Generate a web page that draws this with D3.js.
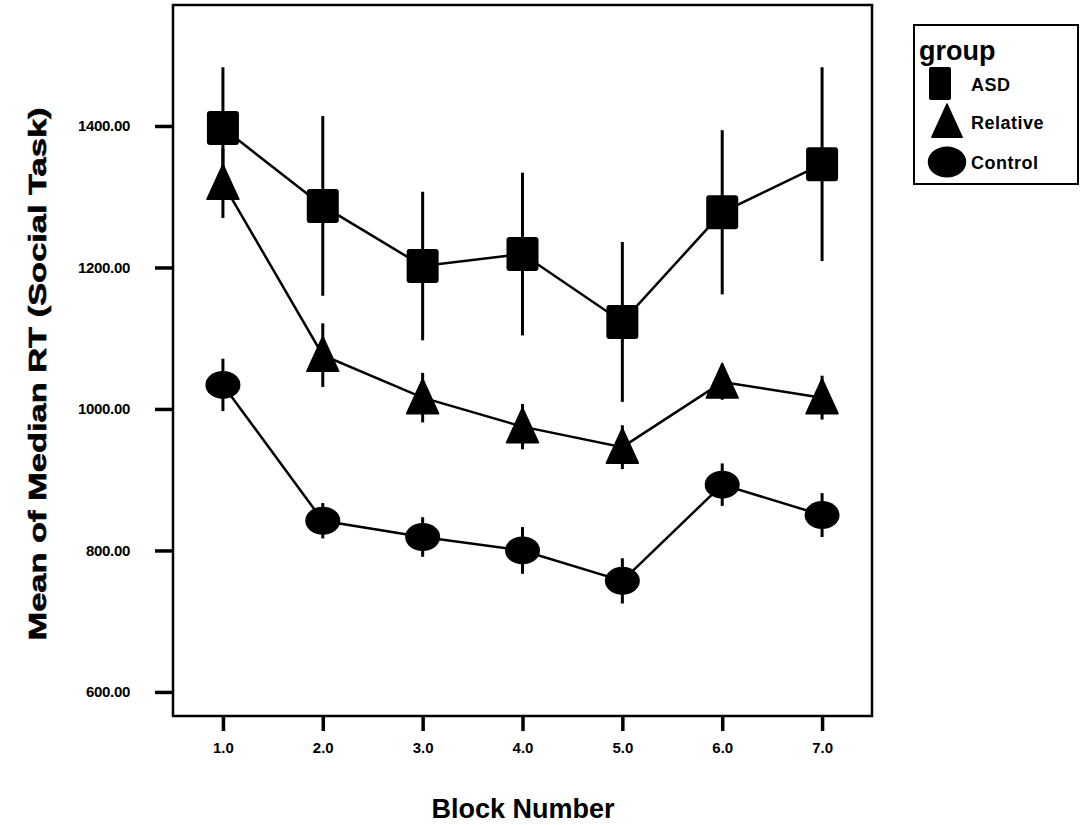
<!DOCTYPE html>
<html>
<head>
<meta charset="utf-8">
<script src="https://cdn.jsdelivr.net/npm/d3@7"></script>
<style>
  body { margin: 0; background: #fff; }
  svg { display: block; font-family: "Liberation Sans", Arial, sans-serif; }
</style>
</head>
<body>
<svg id="chart" width="1081" height="825"></svg>
<script>
// block numbers on the x axis
var blocks = [1, 2, 3, 4, 5, 6, 7];

// mean of median RT per group, with half length of the error bar
var asdMean = [1397, 1287, 1202, 1219, 1123, 1278, 1346];
var asdErr = [86, 127, 105, 115, 113, 116, 137];
var relMean = [1319, 1076, 1016, 975, 946, 1038, 1016];
var relErr = [49, 45, 35, 32, 31, 25, 31];
var ctlMean = [1034, 842, 819, 800, 757, 893, 850];
var ctlErr = [37, 25, 28, 33, 32, 30, 31];

var yTicks = [600, 800, 1000, 1200, 1400];
var groupNames = ['ASD', 'Relative', 'Control'];

window.onload = function () {

    var svg = d3.select('#chart');

    var x = d3.scaleLinear().domain([0.5, 7.5]).range([173, 872]);
    var y = d3.scaleLinear().domain([566, 1571]).range([716, 5]);

    var series = [
        { name: 'ASD', shape: 'square', mean: asdMean, err: asdErr },
        { name: 'Relative', shape: 'triangle', mean: relMean, err: relErr },
        { name: 'Control', shape: 'circle', mean: ctlMean, err: ctlErr }
    ];

    // frame
    svg.append('rect')
        .attr('x', x(0.5)).attr('y', y(1571))
        .attr('width', x(7.5) - x(0.5)).attr('height', y(566) - y(1571))
        .attr('fill', 'none').attr('stroke', '#000').attr('stroke-width', 2.5);

    // axes
    var yAxis = d3.axisLeft(y).tickValues(yTicks).tickSize(17).tickPadding(25)
        .tickFormat(d3.format('.2f'));
    var gy = svg.append('g').attr('transform', 'translate(' + (x(0.5) - 1) + ',0)').call(yAxis);
    gy.select('.domain').remove();
    gy.selectAll('line').attr('stroke-width', 3.5);
    gy.selectAll('text').attr('font-size', 15).attr('font-weight', 'bold')
        .attr('letter-spacing', '-0.3px').attr('fill', '#000');

    var xAxis = d3.axisBottom(x).tickValues(blocks).tickSize(14).tickPadding(11)
        .tickFormat(d3.format('.1f'));
    var gx = svg.append('g').attr('transform', 'translate(0,' + (y(566) + 1) + ')').call(xAxis);
    gx.select('.domain').remove();
    gx.selectAll('line').attr('stroke-width', 3.5);
    gx.selectAll('text').attr('font-size', 15).attr('font-weight', 'bold')
        .attr('fill', '#000');

    // axis titles
    svg.append('text')
        .attr('x', 523).attr('y', 818)
        .attr('text-anchor', 'middle')
        .attr('font-size', 27).attr('font-weight', 'bold')
        .text('Block Number');

    svg.append('text')
        .attr('transform', 'translate(46,' + 374 + ') rotate(-90)')
        .attr('text-anchor', 'middle')
        .attr('font-size', 24).attr('font-weight', 'bold')
        .attr('textLength', 533).attr('lengthAdjust', 'spacingAndGlyphs')
        .attr('stroke', '#000').attr('stroke-width', 0.6)
        .text('Mean of Median RT (Social Task)');

    function drawMarker(g, shape, cx, cy, s) {
        if (shape === 'square') {
            g.append('rect')
                .attr('x', cx - 16 * s).attr('y', cy - 17 * s)
                .attr('width', 32 * s).attr('height', 34 * s)
                .attr('rx', 3 * s).attr('fill', '#000');
        } else if (shape === 'triangle') {
            g.append('path')
                .attr('d', 'M' + cx + ',' + (cy - 19 * s) +
                    'L' + (cx + 16 * s) + ',' + (cy + 16 * s) +
                    'L' + (cx - 16 * s) + ',' + (cy + 16 * s) + 'Z')
                .attr('fill', '#000').attr('stroke', '#000')
                .attr('stroke-width', 1.5).attr('stroke-linejoin', 'round');
        } else {
            g.append('ellipse')
                .attr('cx', cx).attr('cy', cy)
                .attr('rx', 17.5 * s).attr('ry', 14 * s)
                .attr('fill', '#000');
        }
    }

    var line = d3.line()
        .x(function (d) { return x(d.b); })
        .y(function (d) { return y(d.m); });

    series.forEach(function (s) {
        var pts = blocks.map(function (b, i) { return { b: b, m: s.mean[i], e: s.err[i] }; });
        var g = svg.append('g').attr('class', 'series');

        g.selectAll('line.err')
            .data(pts)
            .enter()
            .append('line')
            .attr('class', 'err')
            .attr('x1', function (d) { return x(d.b); })
            .attr('x2', function (d) { return x(d.b); })
            .attr('y1', function (d) { return y(d.m + d.e); })
            .attr('y2', function (d) { return y(d.m - d.e); })
            .attr('stroke', '#000').attr('stroke-width', 3);

        g.append('path')
            .datum(pts)
            .attr('d', line)
            .attr('fill', 'none').attr('stroke', '#000').attr('stroke-width', 2.5);

        pts.forEach(function (d) {
            drawMarker(g, s.shape, x(d.b), y(d.m), 1);
        });
    });

    // legend
    var lg = svg.append('g').attr('class', 'legend');
    lg.append('rect')
        .attr('x', 914).attr('y', 25).attr('width', 164).attr('height', 159)
        .attr('fill', 'none').attr('stroke', '#000').attr('stroke-width', 2);
    lg.append('text')
        .attr('x', 919).attr('y', 60)
        .attr('font-size', 27).attr('font-weight', 'bold')
        .text('group');

    var rowY = [84, 122, 162];
    series.forEach(function (s, i) {
        var cy = rowY[i];
        if (s.shape === 'square') {
            lg.append('rect').attr('x', 929).attr('y', cy - 17).attr('width', 22).attr('height', 33)
                .attr('rx', 2).attr('fill', '#000');
        } else {
            drawMarker(lg, s.shape, 947, cy, s.shape === 'triangle' ? 0.95 : 1.1);
        }
        lg.append('text')
            .attr('x', 971).attr('y', cy + 7)
            .attr('font-size', 18).attr('font-weight', 'bold')
            .attr('letter-spacing', '0.5px')
            .text(groupNames[i]);
    });
};
</script>
</body>
</html>
